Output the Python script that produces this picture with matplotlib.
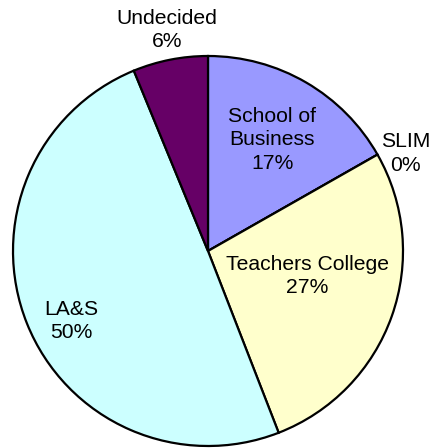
import matplotlib
matplotlib.use('Agg')
import matplotlib.pyplot as plt

labels = ['School of\nBusiness', 'SLIM', 'Teachers College', 'LA&S', 'Undecided']
counts = [27, 0, 44, 80, 10]
colors = ['#9999ff', '#ffffff', '#ffffcc', '#ccffff', '#660066']
# where each label sits, in pie-radius units from the centre
label_pos = [(0.33, 0.57), (1.015, 0.50), (0.51, -0.13), (-0.70, -0.36), (-0.21, 1.135)]

plt.rcParams['font.family'] = ['Liberation Sans', 'DejaVu Sans']

fig = plt.figure(figsize=(4.34, 4.48), dpi=100)
ax = fig.add_axes([0, 0, 1, 1])

wedges, _ = ax.pie(counts, colors=colors, startangle=90, counterclock=False,
                   radius=1, wedgeprops={'edgecolor': 'black', 'linewidth': 1.6})

total = sum(counts)
for lab, c, (x, y) in zip(labels, counts, label_pos):
    pct = round(100 * c / total)
    ax.text(x, y, '%s\n%d%%' % (lab, pct), ha='center', va='center',
            fontsize=15.2, linespacing=1.28)

r = 195
ax.set_xlim(-208 / r, (434 - 208) / r)
ax.set_ylim(-(448 - 251) / r, 251 / r)
ax.set_aspect('equal')
ax.axis('off')

fig.savefig('out.png', dpi=100)
